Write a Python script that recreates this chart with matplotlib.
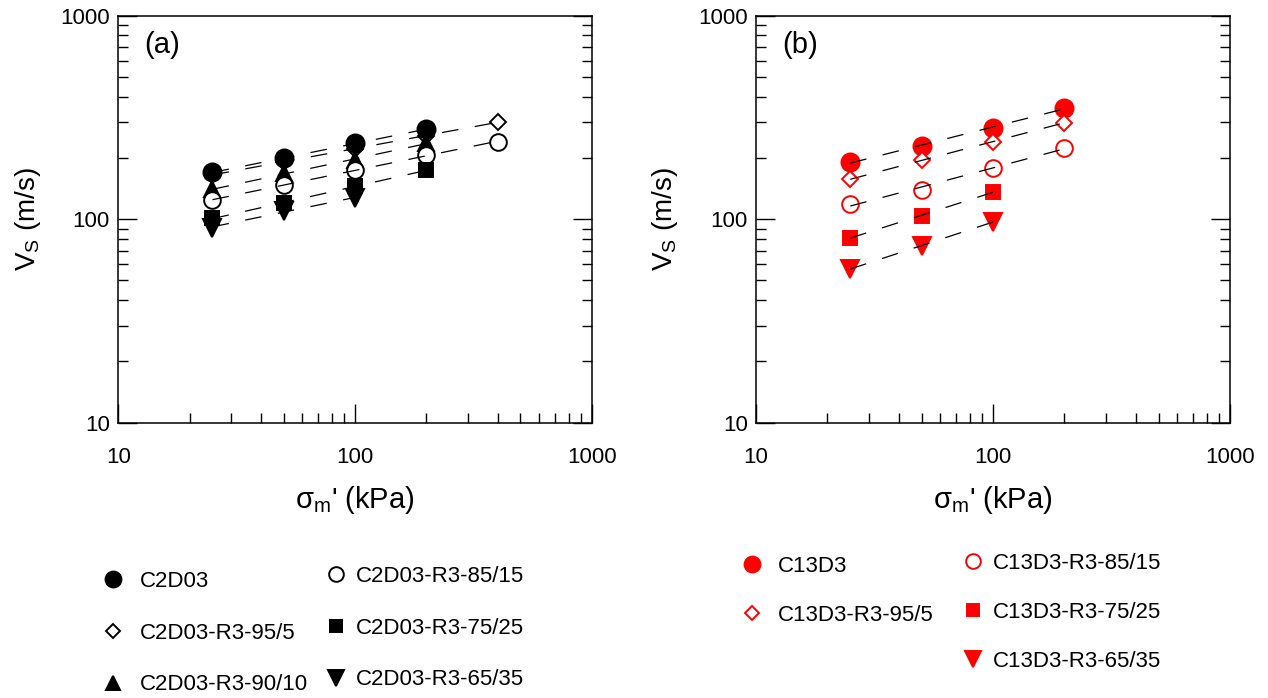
import numpy as np
import matplotlib
matplotlib.use("Agg")
import matplotlib.pyplot as plt
from matplotlib.ticker import LogLocator, FuncFormatter, NullFormatter

plt.rcParams.update({
    "font.family": ["Liberation Sans", "DejaVu Sans"],
    "mathtext.fontset": "custom",
    "mathtext.rm": "Liberation Sans",
    "mathtext.it": "Liberation Sans:italic",
    "lines.scale_dashes": False,
})

# ─── data ────────────────────────────────────────────────
# (a) C2D03 series
A_LABELS = ["C2D03", "C2D03-R3-95/5", "C2D03-R3-90/10",
            "C2D03-R3-85/15", "C2D03-R3-75/25", "C2D03-R3-65/35"]
A_X = [[25, 50, 100, 200],
       [25, 50, 100, 200, 400],
       [25, 50, 100, 200],
       [25, 50, 100, 200, 400],
       [25, 50, 100, 200],
       [25, 50, 100]]
A_VS = [[170, 199, 236, 277],
        [165, 192, 222, 257, 300],
        [140, 168, 196, 236],
        [124, 147, 175, 207, 239],
        [101, 120, 145, 174],
        [91, 110, 127]]

# (b) C13D3 series
B_LABELS = ["C13D3", "C13D3-R3-95/5", "C13D3-R3-85/15",
            "C13D3-R3-75/25", "C13D3-R3-65/35"]
B_X = [[25, 50, 100, 200],
       [25, 50, 100, 200],
       [25, 50, 100, 200],
       [25, 50, 100],
       [25, 50, 100]]
B_VS = [[190, 230, 282, 351],
        [157, 195, 240, 298],
        [119, 139, 178, 225],
        [81, 104, 136],
        [57, 74, 97]]

# marker style per label: (marker, filled, size, zorder)
A_STYLE = [("o", True, 13, 3), ("D", False, 8.5, 2.5), ("^", True, 12, 3),
           ("o", False, 12, 3), ("s", True, 10, 3), ("v", True, 13, 3)]
B_STYLE = [("o", True, 13, 3), ("D", False, 8.5, 3), ("o", False, 12, 3),
           ("s", True, 10, 3), ("v", True, 13, 3)]

W, H = 1268, 698


def draw_panel(ax, xs, ys, labels, styles, color, tag):
    handles = []
    for x, y, lab, (m, filled, ms, z) in zip(xs, ys, labels, styles):
        h, = ax.plot(x, y, ls="none", marker=m, ms=ms,
                     mfc=color if filled else "white", mec=color,
                     mew=1.4, label=lab, zorder=z)
        handles.append(h)
        # power-law fit, dashed
        k, b = np.polyfit(np.log10(x), np.log10(y), 1)
        xf = np.array([min(x), max(x)])
        ax.plot(xf, 10 ** (b + k * np.log10(xf)), color="black", lw=0.9,
                dashes=(12, 12), zorder=4)

    ax.set_xscale("log")
    ax.set_yscale("log")
    ax.set_xlim(10, 1000)
    ax.set_ylim(10, 1000)
    fmt = FuncFormatter(lambda v, _: f"{v:g}")
    ax.xaxis.set_major_formatter(fmt)
    ax.yaxis.set_major_formatter(fmt)
    ax.xaxis.set_minor_formatter(NullFormatter())
    ax.yaxis.set_minor_formatter(NullFormatter())
    ax.xaxis.set_minor_locator(LogLocator(subs=np.arange(2, 10)))
    ax.yaxis.set_minor_locator(LogLocator(subs=np.arange(2, 10)))
    ax.tick_params(which="both", direction="in", top=False, right=True,
                   labelsize=16, width=1)
    ax.tick_params(axis="x", which="both", pad=17.5)
    ax.tick_params(axis="y", which="both", pad=6)
    ax.tick_params(which="major", length=14)
    ax.tick_params(which="minor", length=7)
    for s in ax.spines.values():
        s.set_linewidth(1.1)

    ax.set_xlabel(r"$\mathregular{\sigma_m}$' (kPa)", fontsize=21)
    ax.set_ylabel(r"$\mathregular{V_S}$ (m/s)", fontsize=20)
    ax.xaxis.set_label_coords(0.5, -0.15)
    ax.yaxis.set_label_coords(-0.16, 0.5)
    ax.text(0.055, 0.927, tag, transform=ax.transAxes, fontsize=21,
            va="center", ha="left")
    return handles


fig = plt.figure(figsize=(W / 100, H / 100), dpi=100)
ax_a = fig.add_axes([118.3 / W, 275.3 / H, 473.4 / W, 407 / H])
ax_b = fig.add_axes([756 / W, 275.3 / H, 474 / W, 407 / H])

ha = draw_panel(ax_a, A_X, A_VS, A_LABELS, A_STYLE, "black", "(a)")
hb = draw_panel(ax_b, B_X, B_VS, B_LABELS, B_STYLE, "red", "(b)")


def column_legend(handles, marker_x, row_y, gap, spacing):
    fs_px = 16 / 72 * 100
    left = marker_x - 0.5 * fs_px
    top = row_y - 12
    fig.legend(handles=handles, loc="upper left",
               bbox_to_anchor=(left / W, 1 - top / H),
               frameon=False, fontsize=16, handlelength=1.0,
               handletextpad=(gap - 0.5 * fs_px) / fs_px,
               labelspacing=spacing, borderpad=0, borderaxespad=0,
               markerscale=0.88)


column_legend(ha[:3], 113, 583, 27, 1.38)
column_legend(ha[3:], 336, 578, 20, 1.38)
column_legend(hb[:2], 752, 568, 26, 1.25)
column_legend(hb[2:], 973, 565, 20, 1.25)

fig.savefig("out.png", dpi=100)
